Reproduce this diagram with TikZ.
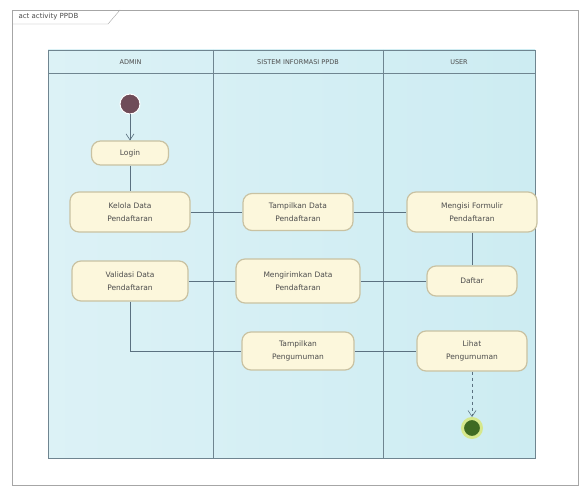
\documentclass[tikz,border=0pt]{standalone}
\usepackage{fontspec}
\setmainfont{DejaVu Sans}
\usetikzlibrary{arrows.meta}
\definecolor{lanefill}{HTML}{CDECF2}
\definecolor{laneline}{HTML}{6F8590}
\definecolor{boxfill}{HTML}{FCF7DC}
\definecolor{boxline}{HTML}{C9C2A2}
\definecolor{flow}{HTML}{5B7180}
\definecolor{endring}{HTML}{D6E88C}
\definecolor{endcore}{HTML}{3F6B22}
\begin{document}
\begin{tikzpicture}[x=1pt,y=-1pt,
    act/.style={draw=boxline,line width=1.2pt,fill=boxfill,rounded corners=9pt,
      align=center,font=\fontsize{7.5}{13}\selectfont,text=black!70},
    lanetitle/.style={font=\fontsize{6.5}{8}\selectfont,text=black!70},
    flowline/.style={draw=flow,line width=0.6pt}]
      \useasboundingbox (0,0) rectangle (583,497);
      \fill [white] (0,0) rectangle (583,497);
      % frame and tab
      \draw [gray!70] (12,10) rectangle (578,485);
      \draw [gray!70] (12,24) -- (108,24) -- (120,10);
      \node [font=\fontsize{7}{8}\selectfont,text=black!70,anchor=west] (title) at (15,17) {act activity PPDB};
      % swimlanes
      \shade [left color=lanefill!70,right color=lanefill] (48,50) rectangle (535,458);
      \draw [laneline,line width=0.6pt] (48,50) rectangle (535,458);
      \draw [laneline,line width=0.6pt] (48,73) -- (535,73);
      \draw [laneline,line width=0.6pt] (213,50) -- (213,458);
      \draw [laneline,line width=0.6pt] (383,50) -- (383,458);
      \node [lanetitle] (laneA) at (130.5,62) {ADMIN};
      \node [lanetitle] (laneS) at (298,62) {SISTEM INFORMASI PPDB};
      \node [lanetitle] (laneU) at (459,62) {USER};
      % start / end
      \node [circle,fill=black!55!purple!40!gray,draw=white,line width=1pt,minimum size=20pt,inner sep=0pt] (start) at (130,104) {};
      \node [circle,fill=endcore,draw=endring,line width=3pt,minimum size=19pt,inner sep=0pt] (end) at (472,428) {};
      % actions
      \node [act,minimum width=77pt,minimum height=24pt] (login) at (130,153) {Login};
      \node [act,minimum width=120pt,minimum height=40pt] (kelola) at (130,212) {Kelola Data\\Pendaftaran};
      \node [act,minimum width=116pt,minimum height=40pt] (validasi) at (130,281) {Validasi Data\\Pendaftaran};
      \node [act,minimum width=110pt,minimum height=37pt] (tampil) at (298,212) {Tampilkan Data\\Pendaftaran};
      \node [act,minimum width=124pt,minimum height=44pt] (kirim) at (298,281) {Mengirimkan Data\\Pendaftaran};
      \node [act,minimum width=112pt,minimum height=38pt] (umum) at (298,351) {Tampilkan\\Pengumuman};
      \node [act,minimum width=130pt,minimum height=40pt] (isi) at (472,212) {Mengisi Formulir\\Pendaftaran};
      \node [act,minimum width=90pt,minimum height=30pt] (daftar) at (472,281) {Daftar};
      \node [act,minimum width=110pt,minimum height=40pt] (lihat) at (472,351) {Lihat\\Pengumuman};
      % flows
      \draw [flowline,-{Straight Barb[length=6pt,width=8pt]}] (start) -- (login);
      \draw [flowline] (login) -- (kelola);
      \draw [flowline] (kelola) -- (tampil);
      \draw [flowline] (tampil) -- (isi);
      \draw [flowline] (isi) -- (daftar);
      \draw [flowline] (daftar) -- (kirim);
      \draw [flowline] (kirim) -- (validasi);
      \draw [flowline] (validasi) |- (umum);
      \draw [flowline] (umum) -- (lihat);
      \draw [flowline,dashed,-{Straight Barb[length=6pt,width=8pt]}] (lihat) -- (end);
\end{tikzpicture}
\end{document}
